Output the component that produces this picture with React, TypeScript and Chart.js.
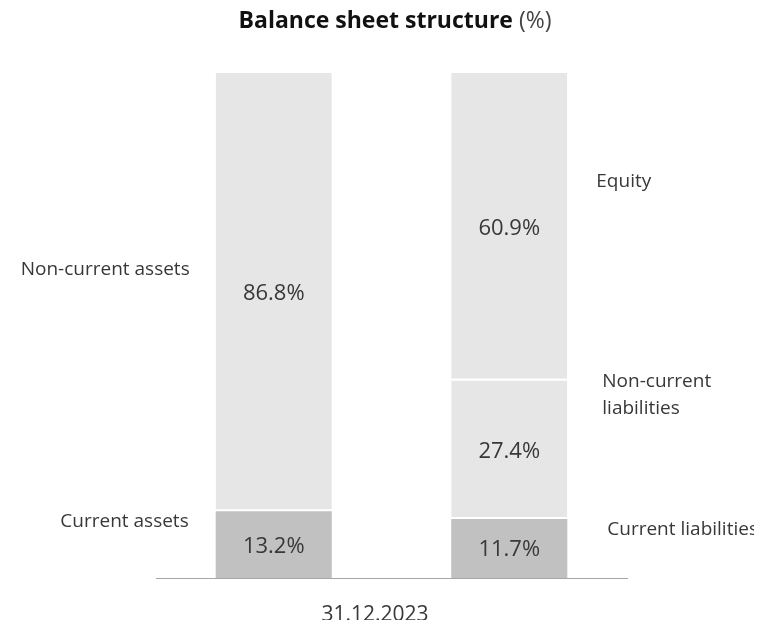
import React, { useEffect, useRef } from "react";
import { Chart, registerables } from "chart.js";

Chart.register(...registerables);

// ---- data ----
const categories = ["Assets", "Liabilities"];
const currentValues = [13.2, 11.7];
const nonCurrentValues = [86.8, 27.4];
const equityValues: (number | null)[] = [null, 60.9];
const currentNames = ["Current assets", "Current liabilities"];
const nonCurrentNames = ["Non-current assets", "Non-current\nliabilities"];
const equityNames: (string | null)[] = [null, "Equity"];
const dateLabel = "31.12.2023";
const titleBold = "Balance sheet structure";
const titleNormal = " (%)";

// ---- style ----
const FONT = "'Open Sans', 'Noto Sans', sans-serif";
const LIGHT = "#e6e6e6";
const DARK = "#c1c1c1";
const TEXT = "#383838";
const CAP = 0.714;
// side-label offsets: dx from bar edge, dy of text block centre from segment centre
const sideOffsets = [
  [{ dx: 27, dy: -24 }, { dx: 40, dy: -20 }],
  [{ dx: 26, dy: -23.5 }, { dx: 35, dy: -56 }],
  [null, { dx: 29, dy: -47 }],
];

const namesByDataset = [currentNames, nonCurrentNames, equityNames];

const textPlugin = {
  id: "balanceTexts",
  afterDraw(chart: any) {
    const ctx = chart.ctx as CanvasRenderingContext2D;
    const area = chart.chartArea;
    ctx.save();
    ctx.textBaseline = "alphabetic";

    chart.data.datasets.forEach((ds: any, di: number) => {
      const meta = chart.getDatasetMeta(di);
      meta.data.forEach((el: any, i: number) => {
        const v = ds.data[i];
        if (v == null) return;
        const { x, y, base, width } = el.getProps(["x", "y", "base", "width"], true);
        const cy = (y + base) / 2;
        // value label
        const vs = 22;
        ctx.font = `${vs}px ${FONT}`;
        ctx.fillStyle = TEXT;
        ctx.textAlign = "center";
        ctx.fillText(v.toFixed(1) + "%", x, cy + (vs * CAP) / 2);
        // side label
        const name = namesByDataset[di][i];
        const off = sideOffsets[di][i];
        if (name && off) {
          const ls = 19;
          const lh = 27;
          ctx.font = `${ls}px ${FONT}`;
          ctx.fillStyle = TEXT;
          const left = i === 0;
          ctx.textAlign = left ? "right" : "left";
          const tx = left ? x - width / 2 - off.dx : x + width / 2 + off.dx;
          const lines = name.split("\n");
          const blockC = cy + off.dy;
          lines.forEach((ln: string, k: number) => {
            const lc = blockC + (k - (lines.length - 1) / 2) * lh;
            ctx.fillText(ln, tx, lc + (ls * CAP) / 2);
          });
        }
      });
    });

    // title
    const ts = 23;
    ctx.textAlign = "left";
    ctx.font = `bold ${ts}px ${FONT}`;
    const wb = ctx.measureText(titleBold).width;
    ctx.font = `${ts}px ${FONT}`;
    const wn = ctx.measureText(titleNormal).width;
    const tcx = 387; // canvas x of title centre
    const tBase = 20;
    const sx = tcx - (wb + wn) / 2;
    ctx.font = `bold ${ts}px ${FONT}`;
    ctx.fillStyle = "#111";
    ctx.fillText(titleBold, sx, tBase);
    ctx.font = `${ts}px ${FONT}`;
    ctx.fillStyle = "#444";
    ctx.fillText(titleNormal, sx + wb, tBase);

    // date label
    const ds2 = 21;
    ctx.font = `${ds2}px ${FONT}`;
    ctx.fillStyle = TEXT;
    ctx.textAlign = "center";
    ctx.fillText(dateLabel, 367, area.bottom + 35.5 + (ds2 * CAP) / 2);

    ctx.restore();
  },
};

export default function App() {
  const ref = useRef<HTMLCanvasElement | null>(null);

  useEffect(() => {
    if (!ref.current) return;
    const sepBorder = { top: 0, right: 0, bottom: 2, left: 0 };
    const chart = new Chart(ref.current, {
      type: "bar",
      data: {
        labels: categories,
        datasets: [
          {
            label: "Current",
            data: currentValues,
            backgroundColor: DARK,
            borderWidth: 0,
          },
          {
            label: "Non-current",
            data: nonCurrentValues,
            backgroundColor: LIGHT,
            borderColor: "#ffffff",
            borderWidth: sepBorder,
            borderSkipped: false,
          },
          {
            label: "Equity",
            data: equityValues,
            backgroundColor: LIGHT,
            borderColor: "#ffffff",
            borderWidth: sepBorder,
            borderSkipped: false,
          },
        ] as any,
      },
      options: {
        animation: false,
        responsive: true,
        maintainAspectRatio: false,
        layout: { padding: { left: 148, right: 127, top: 65, bottom: 42 } },
        datasets: { bar: { categoryPercentage: 1, barPercentage: 0.493 } },
        plugins: {
          legend: { display: false },
          tooltip: { enabled: false },
          title: { display: false },
        },
        scales: {
          x: {
            stacked: true,
            display: true,
            grid: { display: false, drawTicks: false },
            ticks: { display: false },
            border: { display: true, color: "#a6a6a6", width: 1 },
          },
          y: {
            stacked: true,
            display: false,
            min: 0,
            max: 100,
          },
        },
      },
      plugins: [textPlugin],
    });
    return () => chart.destroy();
  }, []);

  return (
    <div style={{ position: "relative", width: 746, height: 612 }}>
      <canvas ref={ref} />
    </div>
  );
}
